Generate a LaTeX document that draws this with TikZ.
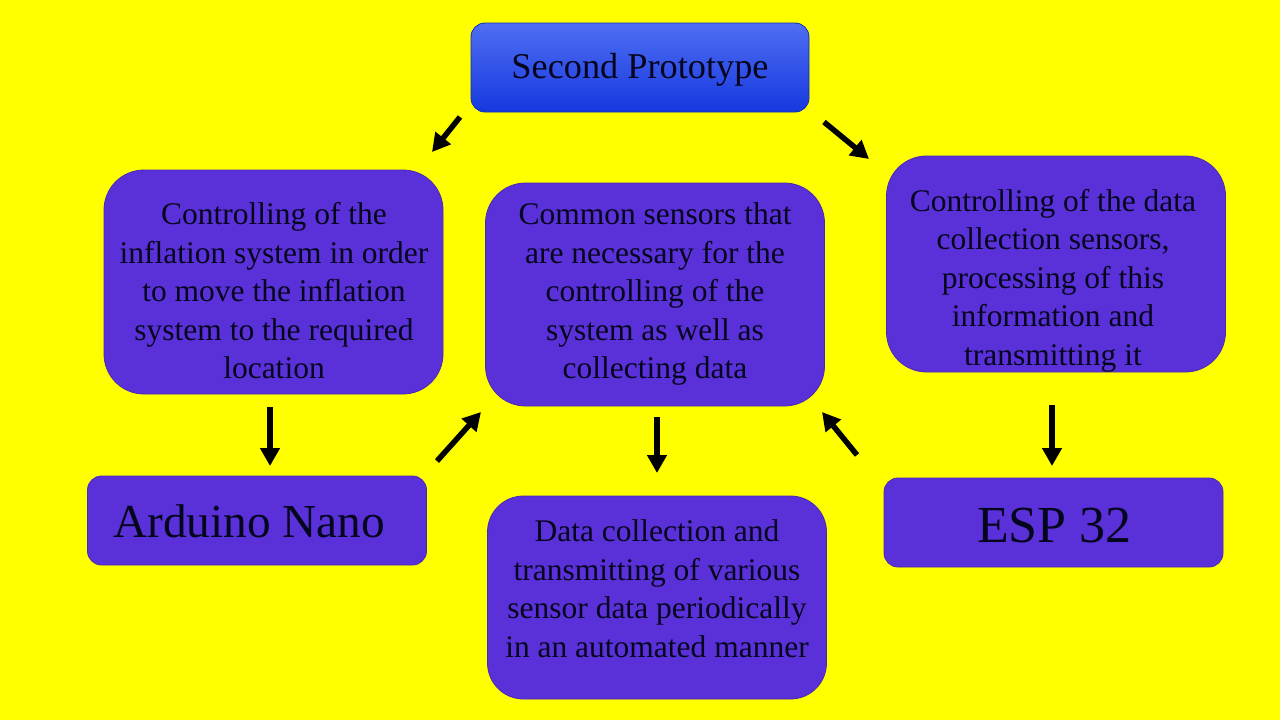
\documentclass[tikz,border=0pt]{standalone}
\usepackage{fontspec}
\setmainfont{Liberation Serif}
\usetikzlibrary{arrows.meta}
\definecolor{bgyellow}{HTML}{FFFF00}
\definecolor{boxpurple}{HTML}{5A31D8}
\definecolor{boxedge}{HTML}{4A28B8}
\definecolor{toptop}{HTML}{4F6EF2}
\definecolor{topbot}{HTML}{1638E0}
\definecolor{txt}{HTML}{06051E}
\tikzset{
  bigbox/.style={fill=boxpurple, draw=boxedge, line width=0.8pt, rounded corners=40pt, minimum width=339pt, inner sep=0pt},
  smallbox/.style={fill=boxpurple, draw=boxedge, line width=0.8pt, rounded corners=14pt, minimum width=339pt, minimum height=89pt, inner sep=0pt},
  bodytext/.style={text=txt, align=center, font=\fontsize{31.5}{38.5}\selectfont, inner sep=0pt},
  bigtext/.style={text=txt, inner sep=0pt, anchor=base west},
  arr/.style={line width=5.5pt, -{Triangle[length=18pt,width=19pt]}}
}
\begin{document}
\begin{tikzpicture}[x=1pt,y=-1pt]
\fill[bgyellow] (0,0) rectangle (1280,720);
\useasboundingbox (0,0) rectangle (1280,720);

% top box
\node[draw=topbot!80!black, line width=0.8pt, rounded corners=14pt, minimum width=338pt, minimum height=89pt,
      top color=toptop, bottom color=topbot, inner sep=0pt] (top) at (640,67.5) {};
\node[text=txt, font=\fontsize{36.3}{40}\selectfont, anchor=base, inner sep=0pt] (toptxt) at (640,78) {Second Prototype};

% big boxes
\node[bigbox, minimum height=224pt] (left) at (273.5,282) {};
\node[bodytext] (lefttxt) at (274,291) {Controlling of the\\inflation system in order\\to move the inflation\\system to the required\\location};

\node[bigbox, minimum height=223pt] (mid) at (655,294.5) {};
\node[bodytext] (midtxt) at (655,294) {Common sensors that\\are necessary for the\\controlling of the\\system as well as\\collecting data};

\node[bigbox, minimum height=216pt] (right) at (1056,264) {};
\node[bodytext] (righttxt) at (1053,280.5) {Controlling of the data\\collection sensors,\\processing of this\\information and\\transmitting it};

\node[bigbox, minimum height=203pt, rounded corners=36pt] (bot) at (657,597.5) {};
\node[bodytext] (bottxt) at (657,588.5) {Data collection and\\transmitting of various\\sensor data periodically\\in an automated manner};

% small boxes
\node[smallbox] (ard) at (257,520.5) {};
\node[bigtext, font=\fontsize{47.3}{52}\selectfont] (ardtxt) at (113,537) {Arduino Nano};

\node[smallbox] (esp) at (1053.5,522.5) {};
\node[bigtext, font=\fontsize{52}{56}\selectfont] (esptxt) at (977,542) {ESP 32};

% arrow end points
\coordinate (a1s) at (460,117); \coordinate (a1e) at (432,152);
\coordinate (a2s) at (824,122); \coordinate (a2e) at (869,159);
\coordinate (a3s) at (270,407); \coordinate (a3e) at (270,466);
\coordinate (a4s) at (437,461); \coordinate (a4e) at (481,412);
\coordinate (a5s) at (657,417); \coordinate (a5e) at (657,473);
\coordinate (a6s) at (857,455); \coordinate (a6e) at (822,412);
\coordinate (a7s) at (1052,405); \coordinate (a7e) at (1052,466);

\draw[arr] (a1s) -- (a1e);
\draw[arr] (a2s) -- (a2e);
\draw[arr] (a3s) -- (a3e);
\draw[arr] (a4s) -- (a4e);
\draw[arr] (a5s) -- (a5e);
\draw[arr] (a6s) -- (a6e);
\draw[arr] (a7s) -- (a7e);
\end{tikzpicture}
\end{document}
